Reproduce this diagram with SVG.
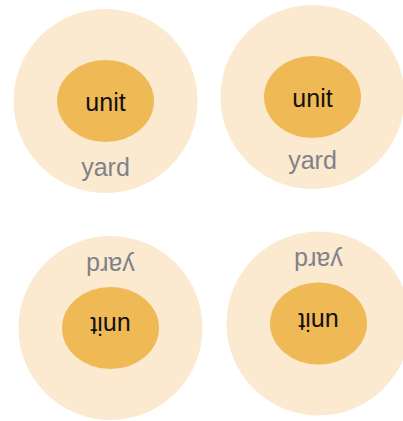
<svg xmlns="http://www.w3.org/2000/svg" width="403" height="421" viewBox="0 0 403 421">
<style>
.yard{fill:#FBE9D0}
.unit{fill:#EFB956}
.ut{font-family:"Liberation Sans",Arial,sans-serif;font-size:25px;fill:#111;text-anchor:middle}
.yt{font-family:"Liberation Sans",Arial,sans-serif;font-size:25px;fill:#818289;text-anchor:middle}
</style>
<rect width="403" height="421" fill="#fff"/>
<g id="node-tl" transform="translate(105.5,101)">
<circle class="yard" r="92"/>
<ellipse class="unit" rx="48.5" ry="41"/>
<text class="ut" y="10">unit</text>
<text class="yt" y="74.5">yard</text>
</g>
<g id="node-tr" transform="translate(312.5,97)">
<circle class="yard" r="92"/>
<ellipse class="unit" rx="48.5" ry="41"/>
<text class="ut" y="10">unit</text>
<text class="yt" y="72">yard</text>
</g>
<g id="node-bl" transform="translate(110.5,328) rotate(180)">
<circle class="yard" r="92"/>
<ellipse class="unit" rx="48.5" ry="41"/>
<text class="ut" y="11">unit</text>
<text class="yt" y="71.5">yard</text>
</g>
<g id="node-br" transform="translate(318.5,323.5) rotate(180)">
<circle class="yard" r="92"/>
<ellipse class="unit" rx="48.5" ry="41"/>
<text class="ut" y="11">unit</text>
<text class="yt" y="71.5">yard</text>
</g>
<g id="connectors"></g>
</svg>
